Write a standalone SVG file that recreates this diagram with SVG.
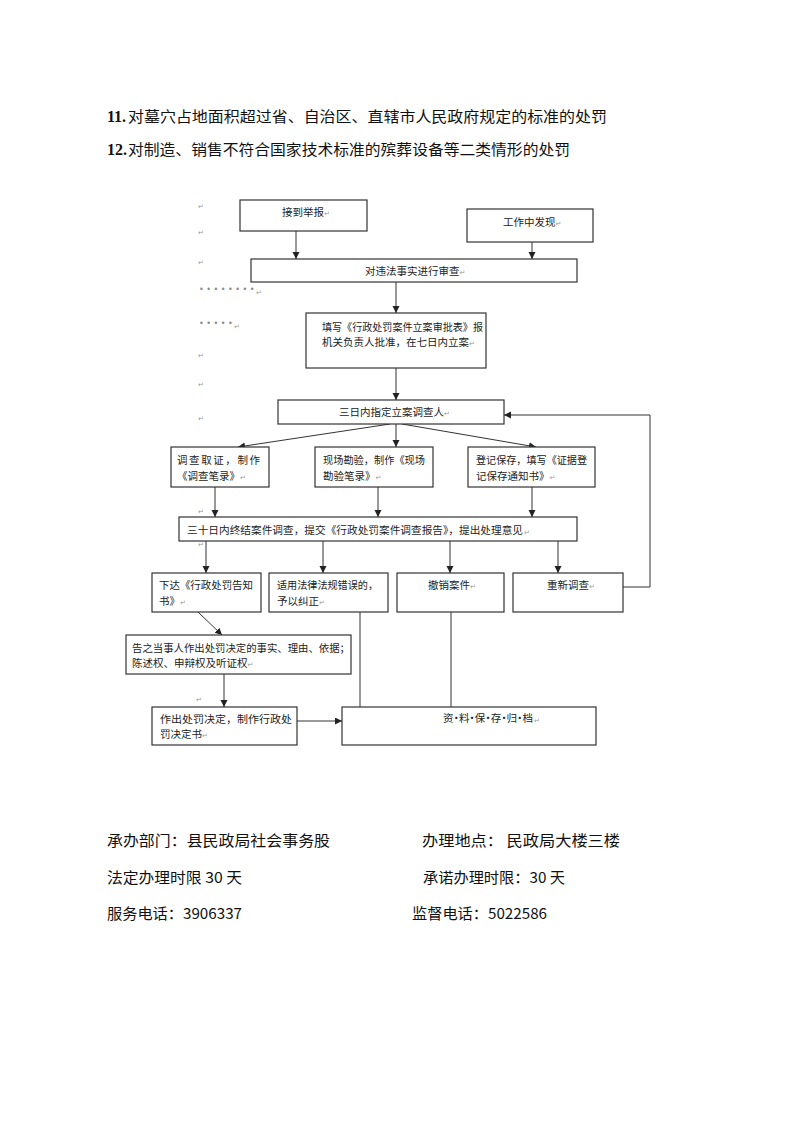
<svg xmlns="http://www.w3.org/2000/svg" width="793" height="1122" viewBox="0 0 793 1122">
<style>
.h{font-family:"Noto Sans CJK SC","Noto Sans CJK SC",sans-serif;font-size:15px;fill:#111}
.hn{font-family:"Liberation Serif",serif;font-size:16px;font-weight:bold;fill:#111}
.b{font-family:"Noto Sans CJK SC",sans-serif;font-size:15px;fill:#111}
.t{font-family:"Noto Sans CJK SC",sans-serif;font-size:10.5px;fill:#222}
.pm{font-family:"DejaVu Sans",sans-serif;font-size:7px;fill:#999}
.dot{font-family:"DejaVu Sans",sans-serif;font-size:8px;fill:#888}
.box{fill:#fff;stroke:#333;stroke-width:1.2}
.ln{fill:none;stroke:#333;stroke-width:1}
</style>
<defs>
<marker id="ar" markerUnits="userSpaceOnUse" markerWidth="8" markerHeight="8" refX="7" refY="3.5" orient="auto">
<path d="M0,0 L7,3.5 L0,7 z" fill="#222"/>
</marker>
</defs>
<rect width="793" height="1122" fill="#fff"/>

<g id="header">
<text class="hn" x="107" y="122">11.</text>
<text class="h" x="128" y="122" textLength="479" lengthAdjust="spacingAndGlyphs">对墓穴占地面积超过省、自治区、直辖市人民政府规定的标准的处罚</text>
<text class="hn" x="107" y="155">12.</text>
<text class="h" x="128" y="155" textLength="442" lengthAdjust="spacingAndGlyphs">对制造、销售不符合国家技术标准的殡葬设备等二类情形的处罚</text>
</g>

<g id="margin-marks">
<text class="pm" x="198" y="209">↵</text>
<text class="pm" x="198" y="235">↵</text>
<text class="pm" x="198" y="265">↵</text>
<text class="dot" x="199" y="292">• • • • • • • •</text><text class="pm" x="256" y="295">↵</text>
<text class="dot" x="199" y="326">• • • • •</text><text class="pm" x="234" y="329">↵</text>
<text class="pm" x="198" y="358">↵</text>
<text class="pm" x="198" y="387">↵</text>
<text class="pm" x="198" y="421">↵</text>
<text class="pm" x="198" y="514">↵</text>
<text class="pm" x="198" y="547">↵</text>
<text class="pm" x="196" y="702">↵</text>
</g>

<g id="connectors">
<line class="ln" x1="296" y1="231" x2="296" y2="259" marker-end="url(#ar)"/>
<line class="ln" x1="532" y1="242" x2="532" y2="259" marker-end="url(#ar)"/>
<line class="ln" x1="396" y1="282" x2="396" y2="313" marker-end="url(#ar)"/>
<line class="ln" x1="396" y1="368" x2="396" y2="400" marker-end="url(#ar)"/>
<line class="ln" x1="390" y1="424" x2="238" y2="447" marker-end="url(#ar)"/>
<line class="ln" x1="396" y1="424" x2="396" y2="447" marker-end="url(#ar)"/>
<line class="ln" x1="402" y1="424" x2="536" y2="447" marker-end="url(#ar)"/>
<line class="ln" x1="215" y1="487" x2="215" y2="517" marker-end="url(#ar)"/>
<line class="ln" x1="378" y1="487" x2="378" y2="517" marker-end="url(#ar)"/>
<line class="ln" x1="532" y1="487" x2="532" y2="517" marker-end="url(#ar)"/>
<line class="ln" x1="206" y1="541" x2="206" y2="573" marker-end="url(#ar)"/>
<line class="ln" x1="323" y1="541" x2="323" y2="573" marker-end="url(#ar)"/>
<line class="ln" x1="450" y1="541" x2="450" y2="573" marker-end="url(#ar)"/>
<line class="ln" x1="558" y1="541" x2="558" y2="573" marker-end="url(#ar)"/>
<polyline class="ln" points="623,587 650,587 650,415 504,415" marker-end="url(#ar)"/>
<line class="ln" x1="198" y1="612" x2="222" y2="635" marker-end="url(#ar)"/>
<line class="ln" x1="224" y1="674" x2="224" y2="707" marker-end="url(#ar)"/>
<line class="ln" x1="297" y1="721" x2="342" y2="721" marker-end="url(#ar)"/>
<line class="ln" x1="360" y1="612" x2="360" y2="707"/>
<line class="ln" x1="451" y1="612" x2="451" y2="707"/>
</g>

<g id="n-report">
<rect class="box" x="240" y="200" width="127" height="31"/>
<text class="t" x="282" y="216" font-size="11">接到举报<tspan class="pm">↵</tspan></text>
</g>
<g id="n-found">
<rect class="box" x="467" y="209" width="126" height="33"/>
<text class="t" x="503" y="226">工作中发现<tspan class="pm">↵</tspan></text>
</g>
<g id="n-review">
<rect class="box" x="251" y="259" width="326" height="23"/>
<text class="t" x="365" y="275">对违法事实进行审查<tspan class="pm">↵</tspan></text>
</g>
<g id="n-file">
<rect class="box" x="306" y="313" width="180" height="55"/>
<text class="t" x="322" y="331" textLength="161" lengthAdjust="spacingAndGlyphs">填写《行政处罚案件立案审批表》报</text>
<text class="t" x="322" y="346">机关负责人批准，在七日内立案<tspan class="pm">↵</tspan></text>
</g>
<g id="n-assign">
<rect class="box" x="278" y="400" width="226" height="24"/>
<text class="t" x="339" y="416">三日内指定立案调查人<tspan class="pm">↵</tspan></text>
</g>
<g id="n-evidence">
<rect class="box" x="171" y="447" width="98" height="40"/>
<text class="t" x="177" y="464" textLength="83" lengthAdjust="spacing">调查取证，制作</text>
<text class="t" x="177" y="480">《调查笔录》<tspan class="pm">↵</tspan></text>
</g>
<g id="n-scene">
<rect class="box" x="315" y="447" width="118" height="40"/>
<text class="t" x="323" y="464" textLength="102" lengthAdjust="spacingAndGlyphs">现场勘验，制作《现场</text>
<text class="t" x="323" y="480">勘验笔录》<tspan class="pm">↵</tspan></text>
</g>
<g id="n-register">
<rect class="box" x="468" y="447" width="127" height="40"/>
<text class="t" x="476" y="464" textLength="111" lengthAdjust="spacingAndGlyphs">登记保存，填写《证据登</text>
<text class="t" x="476" y="480">记保存通知书》<tspan class="pm">↵</tspan></text>
</g>
<g id="n-conclude">
<rect class="box" x="179" y="517" width="398" height="24"/>
<text class="t" x="187" y="534" textLength="336" lengthAdjust="spacingAndGlyphs">三十日内终结案件调查，提交《行政处罚案件调查报告》，提出处理意见</text>
<text class="pm" x="524" y="535">↵</text>
</g>
<g id="n-notify">
<rect class="box" x="152" y="573" width="109" height="39"/>
<text class="t" x="159" y="589" textLength="94" lengthAdjust="spacingAndGlyphs">下达《行政处罚告知</text>
<text class="t" x="159" y="605">书》<tspan class="pm">↵</tspan></text>
</g>
<g id="n-correct">
<rect class="box" x="269" y="573" width="119" height="39"/>
<text class="t" x="277" y="589" textLength="101" lengthAdjust="spacingAndGlyphs">适用法律法规错误的，</text>
<text class="t" x="277" y="605">予以纠正<tspan class="pm">↵</tspan></text>
</g>
<g id="n-revoke">
<rect class="box" x="397" y="573" width="107" height="39"/>
<text class="t" x="428" y="589">撤销案件<tspan class="pm">↵</tspan></text>
</g>
<g id="n-reinvestigate">
<rect class="box" x="513" y="573" width="110" height="39"/>
<text class="t" x="547" y="589">重新调查<tspan class="pm">↵</tspan></text>
</g>
<g id="n-inform">
<rect class="box" x="126" y="635" width="225" height="39"/>
<text class="t" x="132" y="652" textLength="218" lengthAdjust="spacingAndGlyphs">告之当事人作出处罚决定的事实、理由、依据；</text>
<text class="t" x="132" y="667">陈述权、申辩权及听证权<tspan class="pm">↵</tspan></text>
</g>
<g id="n-decide">
<rect class="box" x="152" y="707" width="145" height="38"/>
<text class="t" x="160" y="723" textLength="132" lengthAdjust="spacingAndGlyphs">作出处罚决定，制作行政处</text>
<text class="t" x="160" y="738">罚决定书<tspan class="pm">↵</tspan></text>
</g>
<g id="n-archive">
<rect class="box" x="342" y="707" width="254" height="38"/>
<text class="t" x="443" y="722" textLength="90" lengthAdjust="spacing">资·料·保·存·归·档</text>
<text class="pm" x="534" y="723">↵</text>
</g>

<g id="footer">
<text class="b" x="107" y="846" textLength="223" lengthAdjust="spacingAndGlyphs">承办部门：县民政局社会事务股</text>
<text class="b" x="422" y="846" textLength="198" lengthAdjust="spacingAndGlyphs">办理地点： 民政局大楼三楼</text>
<text class="b" x="107" y="883" textLength="135" lengthAdjust="spacingAndGlyphs">法定办理时限 30 天</text>
<text class="b" x="423" y="883" textLength="142" lengthAdjust="spacingAndGlyphs">承诺办理时限：30 天</text>
<text class="b" x="107" y="919" textLength="135" lengthAdjust="spacingAndGlyphs">服务电话：3906337</text>
<text class="b" x="412" y="919" textLength="135" lengthAdjust="spacingAndGlyphs">监督电话：5022586</text>
</g>
</svg>
